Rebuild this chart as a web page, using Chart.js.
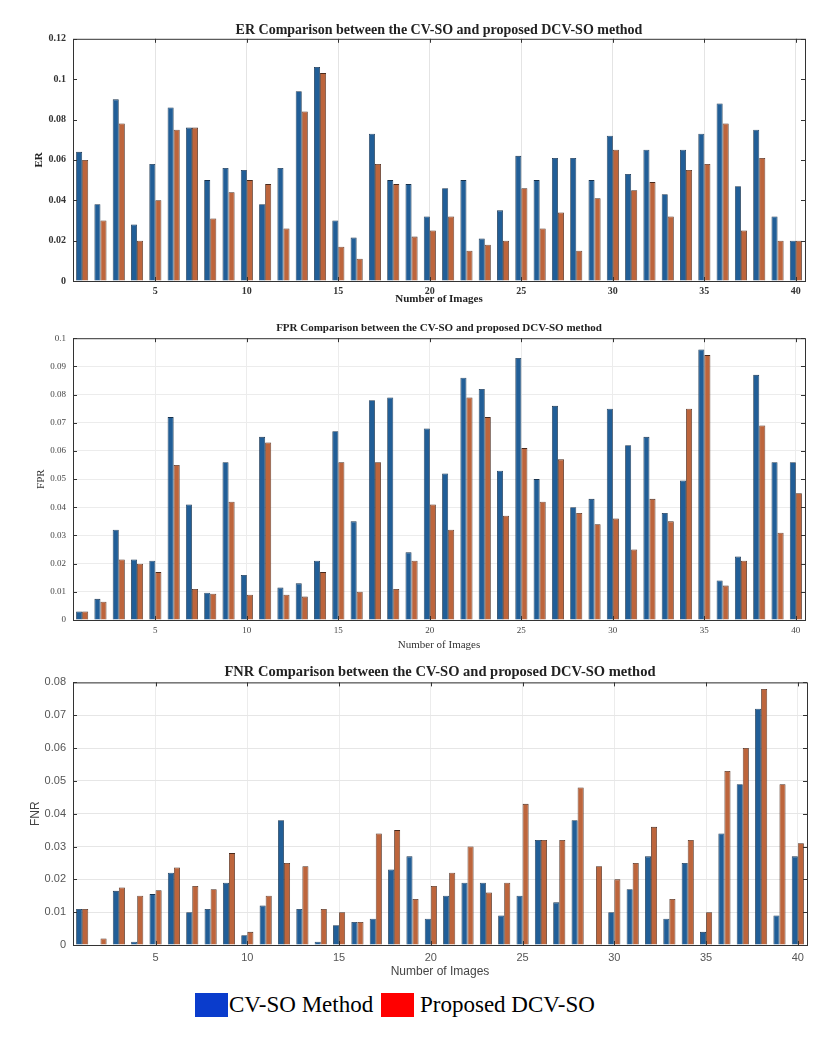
<!DOCTYPE html>
<html lang="en">
<head>
<meta charset="UTF-8">
<title>ER / FPR / FNR comparison between CV-SO and DCV-SO</title>
<script src="https://cdn.jsdelivr.net/npm/chart.js"></script>
<style>
  body { margin: 0; background: #fff; }
  .box { position: absolute; left: 0; width: 838px; }
  #b1 { top: 0; height: 306px; }
  #b2 { top: 306px; height: 346px; }
  #b3 { top: 652px; height: 327px; }
  .sw { position: absolute; width: 33px; height: 24px; top: 993px; }
  .lt { position: absolute; top: 991px; font-family: 'Liberation Serif', 'Times New Roman', serif; font-size: 23px; line-height: 28px; color: #000; white-space: nowrap; }
</style>
</head>
<body>
<div class="box" id="b1"><canvas id="erChart"></canvas></div>
<div class="box" id="b2"><canvas id="fprChart"></canvas></div>
<div class="box" id="b3"><canvas id="fnrChart"></canvas></div>

<div class="sw" style="left:195px;background:#0a3ccc"></div>
<div class="lt" style="left:229px">CV-SO Method</div>
<div class="sw" style="left:381px;background:#ff0000"></div>
<div class="lt" style="left:420px">Proposed DCV-SO</div>

<script>
// image numbers 1..40
const images = [1,2,3,4,5,6,7,8,9,10,11,12,13,14,15,16,17,18,19,20,
                21,22,23,24,25,26,27,28,29,30,31,32,33,34,35,36,37,38,39,40];

// ER
const erCvso = [0.064,0.038,0.090,0.028,0.058,0.086,0.076,0.050,0.056,0.055,
                0.038,0.056,0.094,0.106,0.030,0.0215,0.073,0.050,0.048,0.032,
                0.046,0.050,0.021,0.035,0.062,0.050,0.061,0.061,0.050,0.072,
                0.053,0.065,0.043,0.065,0.073,0.088,0.047,0.075,0.032,0.020];
const erDcvso = [0.060,0.030,0.078,0.020,0.040,0.075,0.076,0.031,0.044,0.050,
                 0.048,0.026,0.084,0.103,0.017,0.011,0.058,0.048,0.022,0.025,
                 0.032,0.015,0.018,0.020,0.046,0.026,0.034,0.015,0.041,0.065,
                 0.045,0.049,0.032,0.055,0.058,0.078,0.025,0.061,0.020,0.020];

// FPR
const fprCvso = [0.003,0.0075,0.032,0.0215,0.021,0.072,0.041,0.0097,0.056,0.016,
                 0.065,0.0115,0.013,0.021,0.067,0.035,0.078,0.079,0.024,0.068,
                 0.052,0.086,0.082,0.053,0.093,0.050,0.076,0.040,0.043,0.075,
                 0.062,0.065,0.038,0.0495,0.096,0.014,0.0225,0.087,0.056,0.056];
const fprDcvso = [0.003,0.0065,0.0215,0.020,0.017,0.055,0.011,0.0093,0.042,0.009,
                  0.063,0.009,0.0083,0.017,0.056,0.010,0.056,0.011,0.021,0.041,
                  0.032,0.079,0.072,0.037,0.061,0.042,0.057,0.038,0.034,0.036,
                  0.025,0.043,0.035,0.075,0.094,0.0122,0.021,0.069,0.031,0.045];

// FNR
const fnrCvso = [0.011,0,0.0165,0.001,0.0155,0.022,0.010,0.011,0.019,0.003,
                 0.012,0.038,0.011,0.001,0.006,0.007,0.008,0.023,0.027,0.008,
                 0.015,0.019,0.019,0.009,0.015,0.032,0.013,0.038,0,0.010,
                 0.017,0.027,0.008,0.025,0.004,0.034,0.049,0.072,0.009,0.027];
const fnrDcvso = [0.011,0.002,0.0175,0.015,0.0167,0.0236,0.018,0.017,0.028,0.004,
                  0.015,0.025,0.024,0.011,0.010,0.007,0.034,0.035,0.014,0.018,
                  0.022,0.030,0.016,0.019,0.043,0.032,0.032,0.048,0.024,0.020,
                  0.025,0.036,0.014,0.032,0.010,0.053,0.060,0.078,0.049,0.031];

const serif = "'Liberation Serif', 'Times New Roman', serif";
const sans = "'Liberation Sans', Arial, sans-serif";

// matlab style box round the axes, with small inward ticks
const frame = {
  id: 'frame',
  afterDatasetsDraw(chart) {
    const {ctx, chartArea: a, scales: {x, y}} = chart;
    ctx.save();
    ctx.strokeStyle = '#333';
    ctx.lineWidth = 1;
    ctx.strokeRect(a.left + 0.5, a.top + 0.5, a.right - a.left, a.bottom - a.top);
    ctx.beginPath();
    x.ticks.forEach((t, i) => {
      if ((i + 1) % 5 !== 0) return;
      const px = Math.round(x.getPixelForTick(i)) + 0.5;
      ctx.moveTo(px, a.top); ctx.lineTo(px, a.top + 4);
      ctx.moveTo(px, a.bottom); ctx.lineTo(px, a.bottom - 4);
    });
    y.ticks.forEach((t, i) => {
      const py = Math.round(y.getPixelForTick(i)) + 0.5;
      ctx.moveTo(a.left, py); ctx.lineTo(a.left + 4, py);
      ctx.moveTo(a.right, py); ctx.lineTo(a.right - 4, py);
    });
    ctx.stroke();
    ctx.restore();
  }
};

function makeChart(id, name, cvso, dcvso, o) {
  return new Chart(document.getElementById(id), {
    type: 'bar',
    data: {
      labels: images,
      datasets: [
        { label: 'CV-SO Method', data: cvso, backgroundColor: '#215e97', borderColor: '#17324d', borderWidth: 0.8 },
        { label: 'Proposed DCV-SO', data: dcvso, backgroundColor: '#bd653c', borderColor: '#4a2a1c', borderWidth: 0.8 }
      ]
    },
    options: {
      responsive: true,
      maintainAspectRatio: false,
      animation: false,
      datasets: { bar: { categoryPercentage: 0.66, barPercentage: 1.0 } },
      layout: { padding: { top: o.padTop, right: o.padRight, left: 0, bottom: 0 } },
      plugins: {
        legend: { display: false },
        tooltip: { enabled: false },
        title: {
          display: true,
          fullSize: false,
          text: name + ' Comparison between the CV-SO and proposed DCV-SO method',
          color: '#222',
          font: { family: serif, size: o.titleSize, weight: 'bold' },
          padding: { top: 0, bottom: o.titleGap }
        }
      },
      scales: {
        x: {
          afterFit: s => { s.height = o.xHeight; },
          grid: {
            offset: false,
            drawTicks: false,
            color: c => ((c.index + 1) % 5 === 0 ? o.xGrid : 'transparent')
          },
          border: { display: false },
          ticks: {
            autoSkip: false, maxRotation: 0, padding: o.xTickPad,
            color: o.tickColor,
            font: { family: o.tickFamily, size: o.tickSize, weight: o.tickWeight },
            callback: (v, i) => ((i + 1) % 5 === 0 ? images[i] : '')
          },
          title: {
            display: true, text: 'Number of Images', color: o.titleColor,
            font: { family: o.labelFamily, size: o.labelSize, weight: o.labelWeight },
            padding: { top: 0, bottom: 0 }
          }
        },
        y: {
          min: 0, max: o.max,
          afterFit: s => { s.width = 73; },
          grid: { drawTicks: false, color: o.yGrid },
          border: { display: false },
          ticks: {
            stepSize: o.step, padding: 7,
            color: o.tickColor,
            font: { family: o.tickFamily, size: o.tickSize, weight: o.tickWeight },
            callback: v => String(+v.toFixed(2))
          },
          title: {
            display: true, text: name, color: o.titleColor,
            font: { family: o.labelFamily, size: o.labelSize, weight: o.labelWeight },
            padding: { top: o.yTitlePad, bottom: 0 }
          }
        }
      }
    },
    plugins: [frame]
  });
}

makeChart('erChart', 'ER', erCvso, erDcvso, {
  padTop: 22, padRight: 33, titleSize: 14, titleGap: 0, xHeight: 25, xTickPad: 4,
  max: 0.12, step: 0.02, xGrid: '#e4e4e4', yGrid: 'transparent',
  tickColor: '#333', tickFamily: serif, tickSize: 10, tickWeight: 'bold',
  titleColor: '#222', labelFamily: serif, labelSize: 11, labelWeight: 'bold', yTitlePad: 33
});

makeChart('fprChart', 'FPR', fprCvso, fprDcvso, {
  padTop: 16, padRight: 33, titleSize: 11, titleGap: 3, xHeight: 32, xTickPad: 5,
  max: 0.1, step: 0.01, xGrid: '#ececec', yGrid: '#ececec',
  tickColor: '#444', tickFamily: serif, tickSize: 9, tickWeight: 'normal',
  titleColor: '#333', labelFamily: serif, labelSize: 11, labelWeight: 'normal', yTitlePad: 35
});

makeChart('fnrChart', 'FNR', fnrCvso, fnrDcvso, {
  padTop: 12, padRight: 31, titleSize: 14.5, titleGap: 1, xHeight: 34, xTickPad: 6,
  max: 0.08, step: 0.01, xGrid: '#ececec', yGrid: '#e6e6e6',
  tickColor: '#555', tickFamily: sans, tickSize: 11, tickWeight: 'normal',
  titleColor: '#444', labelFamily: sans, labelSize: 12, labelWeight: 'normal', yTitlePad: 28
});
</script>
</body>
</html>
